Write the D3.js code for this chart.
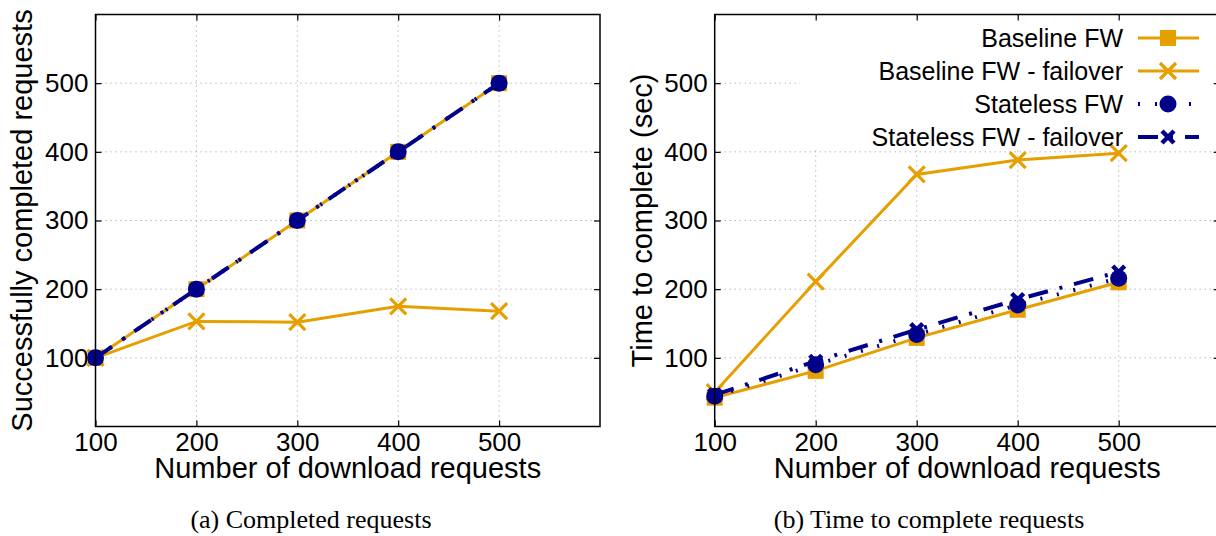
<!DOCTYPE html>
<html>
<head>
<meta charset="utf-8">
<script src="https://cdn.jsdelivr.net/npm/d3@7"></script>
<style>
  body { margin: 0; background: #fff; }
  svg { display: block; font-family: "Liberation Sans", Arial, sans-serif; }
</style>
</head>
<body>
<svg id="chart" width="1216" height="536"></svg>
<script>
const requests = [100, 200, 300, 400, 500];
const xTicks = [100, 200, 300, 400, 500];
const yTicks = [100, 200, 300, 400, 500];
const seriesNames = ["Baseline FW", "Baseline FW - failover", "Stateless FW", "Stateless FW - failover"];

const completedBaseline = [100, 200, 300, 400, 500];
const completedBaselineFailover = [100, 153, 152, 175, 168];
const completedStateless = [100, 200, 300, 400, 500];
const completedStatelessFailover = [100, 200, 300, 400, 500];

const timeBaseline = [42, 81, 129, 170, 210];
const timeBaselineFailover = [50, 211, 367, 388, 398];
const timeStateless = [44, 90, 134, 177, 216];
const timeStatelessFailover = [46, 95, 141, 185, 225];

const orange = "#e69f00", navy = "#00008b";
const styles = [
  { color: orange, width: 3, dash: null, marker: "square" },
  { color: orange, width: 3, dash: null, marker: "cross" },
  { color: navy, width: 4, dash: "2,15", marker: "circle" },
  { color: navy, width: 4, dash: "20,12,3,12", marker: "xbold" }
];

const svg = d3.select("#chart");
svg.append("rect").attr("width", 1216).attr("height", 536).attr("fill", "#fff");

function drawMarker(g, type, x, y, color) {
  if (type === "square") {
    g.append("rect").attr("x", x - 8).attr("y", y - 8).attr("width", 16).attr("height", 16).attr("fill", color);
  } else if (type === "circle") {
    g.append("circle").attr("cx", x).attr("cy", y).attr("r", 8.5).attr("fill", color);
  } else {
    const s = type === "xbold" ? 6 : 8;
    const w = type === "xbold" ? 4.5 : 3.2;
    g.append("path")
      .attr("d", `M${x - s},${y - s}L${x + s},${y + s}M${x - s},${y + s}L${x + s},${y - s}`)
      .attr("stroke", color).attr("stroke-width", w).attr("fill", "none");
  }
}

function panel(opts) {
  const g = svg.append("g");
  const x = d3.scaleLinear().domain([100, 600]).range([opts.left, opts.left + opts.width]);
  const y = d3.scaleLinear().domain([0, 600]).range([opts.top + opts.height, opts.top]);

  // grid
  const grid = g.append("g").attr("stroke", "#999").attr("stroke-width", 1).attr("stroke-dasharray", "1,4");
  xTicks.forEach(t => grid.append("line").attr("x1", x(t)).attr("x2", x(t)).attr("y1", y(0)).attr("y2", y(600)));
  yTicks.forEach(t => grid.append("line").attr("x1", x(100)).attr("x2", x(600)).attr("y1", y(t)).attr("y2", y(t)));

  // legend box hides grid
  if (opts.legend) {
    g.append("rect").attr("x", 800).attr("y", y(600) + 1).attr("width", 420).attr("height", 134).attr("fill", "#fff");
  }

  // axes (inward ticks, mirrored)
  const fs = 26;
  g.append("g").attr("transform", `translate(0,${y(0)})`)
    .call(d3.axisBottom(x).tickValues(xTicks).tickSize(-6).tickPadding(6).tickFormat(d3.format("d")))
    .call(a => a.select(".domain").remove())
    .call(a => a.selectAll("text").attr("font-size", fs).attr("font-family", "Liberation Sans").attr("fill", "#000"));
  g.append("g").attr("transform", `translate(0,${y(600)})`)
    .call(d3.axisTop(x).tickValues(xTicks).tickSize(-6).tickFormat(""))
    .call(a => a.select(".domain").remove());
  g.append("g").attr("transform", `translate(${x(100)},0)`)
    .call(d3.axisLeft(y).tickValues(yTicks).tickSize(-6).tickPadding(7).tickFormat(d3.format("d")))
    .call(a => a.select(".domain").remove())
    .call(a => a.selectAll("text").attr("font-size", fs).attr("font-family", "Liberation Sans").attr("fill", "#000"));
  g.append("g").attr("transform", `translate(${x(600)},0)`)
    .call(d3.axisRight(y).tickValues(yTicks).tickSize(-6).tickFormat(""))
    .call(a => a.select(".domain").remove());
  g.selectAll(".tick line").attr("stroke", "#000").attr("stroke-width", 1.2);

  // series
  const line = d3.line().x(d => x(d[0])).y(d => y(d[1]));
  opts.series.forEach((vals, i) => {
    const st = styles[i];
    const pts = requests.map((r, j) => [r, vals[j]]);
    g.append("path").attr("d", line(pts)).attr("fill", "none")
      .attr("stroke", st.color).attr("stroke-width", st.width)
      .attr("stroke-dasharray", st.dash);
    pts.forEach(p => drawMarker(g, st.marker, x(p[0]), y(p[1]), st.color));
  });

  // frame
  g.append("rect").attr("x", x(100)).attr("y", y(600)).attr("width", x(600) - x(100)).attr("height", y(0) - y(600))
    .attr("fill", "none").attr("stroke", "#000").attr("stroke-width", 1.5);

  // titles
  g.append("text").attr("x", (x(100) + x(600)) / 2).attr("y", 478).attr("text-anchor", "middle")
    .attr("font-size", 29).text("Number of download requests");
  g.append("text").attr("transform", `translate(${opts.ytitleX},${(y(0) + y(600)) / 2}) rotate(-90)`)
    .attr("text-anchor", "middle").attr("font-size", 29).text(opts.ytitle);
  g.append("text").attr("x", opts.captionX).attr("y", 528).attr("text-anchor", "middle")
    .attr("font-family", "Liberation Serif, Times New Roman, serif").attr("font-size", 26).text(opts.caption);

  if (opts.legend) {
    const rowY = [38, 71, 104, 137];
    seriesNames.forEach((name, i) => {
      const st = styles[i];
      g.append("text").attr("x", 1123).attr("y", rowY[i]).attr("dy", "0.35em").attr("text-anchor", "end")
        .attr("font-size", 25).text(name);
      g.append("line").attr("x1", 1138).attr("x2", 1199).attr("y1", rowY[i]).attr("y2", rowY[i])
        .attr("stroke", st.color).attr("stroke-width", st.width).attr("stroke-dasharray", st.dash);
      drawMarker(g, st.marker, 1168, rowY[i], st.color);
    });
  }
}

panel({
  left: 95.5, top: 14.5, width: 504.5, height: 412,
  series: [completedBaseline, completedBaselineFailover, completedStateless, completedStatelessFailover],
  ytitle: "Successfully completed requests", ytitleX: 32,
  caption: "(a) Completed requests", captionX: 311
});
panel({
  left: 714.7, top: 14.5, width: 505, height: 412,
  series: [timeBaseline, timeBaselineFailover, timeStateless, timeStatelessFailover],
  ytitle: "Time to complete (sec)", ytitleX: 652,
  caption: "(b) Time to complete requests", captionX: 929, legend: true
});
</script>
</body>
</html>
